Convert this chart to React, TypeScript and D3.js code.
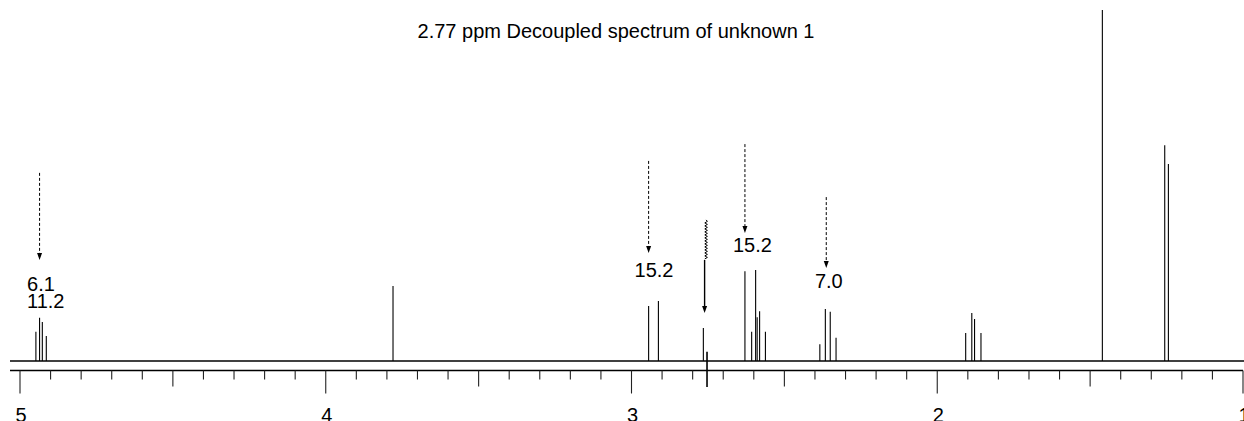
import React from "react";
import * as d3 from "d3";

// ---- data ----
const peakPpm = [
  4.948, 4.936, 4.927, 4.914,
  3.78,
  2.944, 2.912,
  2.765,
  2.629, 2.607, 2.594, 2.589, 2.581, 2.562,
  2.384, 2.366, 2.35, 2.331,
  1.907, 1.887, 1.878, 1.857,
  1.46,
  1.256, 1.244,
];
const peakIntensity = [
  8.3, 12.3, 11.1, 7.1,
  21.4,
  15.7, 17.1,
  9.4,
  25.6, 8.3, 25.9, 12.5, 14.2, 8.3,
  4.8, 14.8, 14.0, 6.6,
  8.0, 13.7, 12.0, 8.0,
  100,
  61.5, 56.1,
];

// irradiation (decoupling) position
const decouplePpm = 2.753;
const decoupleTop = 2.6;

// dashed arrows with coupling-constant labels
const arrowPpm = [4.936, 2.944, 2.629, 2.363];
const arrowTop = [53.6, 57.0, 61.8, 46.7];
const arrowTip = [28.8, 30.8, 36.5, 26.5];
const arrowLabels = [["6.1", "11.2"], ["15.2"], ["15.2"], ["7.0"]];
const labelPpm = [4.977, 2.99, 2.668, 2.4];
const labelBase = [19.9, 24.0, 31.1, 20.8];

// wavy arrow (decoupler)
const wavyPpm = 2.756;
const wavyTop = 40.2;
const wavyEnd = 28.8;
const wavyTip = 13.7;

const tickLabels = ["5", "4", "3", "2", "1"];
const tickValues = [5, 4, 3, 2, 1];

const title = "2.77 ppm Decoupled spectrum of unknown 1";

const W = 1244;
const H = 421;

export default function App() {
  const x = d3.scaleLinear().domain([5, 1]).range([20, 1243]);
  const y = d3.scaleLinear().domain([0, 100]).range([361, 10]);
  const axisY = 370.5;
  const font = "'Liberation Sans', Arial, Helvetica, sans-serif";

  const minorTicks = d3.range(0, 41).map((i) => 5 - i * 0.1);

  const arrowHead = (px: number, tipY: number) =>
    `M${px - 2.5},${tipY - 7} L${px + 2.5},${tipY - 7} L${px},${tipY} Z`;

  // wavy path
  const wx = x(wavyPpm);
  const wy0 = y(wavyTop);
  const wy1 = y(wavyEnd);
  let wavy = `M${wx},${wy0}`;
  let k = 0;
  for (let yy = wy0 + 1.5; yy <= wy1; yy += 1.5) {
    wavy += ` L${wx + (k % 2 === 0 ? 1.3 : -1.3)},${yy}`;
    k++;
  }
  const solidX = wx - 1.5;

  return (
    <svg
      width={W}
      height={H}
      style={{ position: "absolute", left: 0, top: 0, background: "#fff" }}
    >
      <text
        x={616}
        y={38}
        fontFamily={font}
        fontSize={20}
        textAnchor="middle"
        fill="#000"
      >
        {title}
      </text>

      {/* baseline */}
      <line x1={10} x2={W} y1={y(0)} y2={y(0)} stroke="#000" strokeWidth={1.5} />
      {/* axis line */}
      <line x1={10} x2={1243} y1={axisY} y2={axisY} stroke="#000" strokeWidth={1.5} />

      {/* ticks */}
      {minorTicks.map((t, i) => {
        const len = i % 10 === 0 ? 23 : i % 5 === 0 ? 16 : 9;
        return (
          <line
            key={"t" + i}
            x1={x(t)}
            x2={x(t)}
            y1={axisY}
            y2={axisY + len}
            stroke="#222"
            strokeWidth={1.1}
          />
        );
      })}
      {tickValues.map((t, i) => (
        <text
          key={"tl" + i}
          x={x(t) + 1}
          y={422}
          fontFamily={font}
          fontSize={20}
          textAnchor="middle"
          fill="#000"
        >
          {tickLabels[i]}
        </text>
      ))}

      {/* peaks */}
      {peakPpm.map((p, i) => (
        <line
          key={"p" + i}
          x1={x(p)}
          x2={x(p)}
          y1={y(0)}
          y2={y(peakIntensity[i])}
          stroke="#000"
          strokeWidth={1.1}
        />
      ))}

      {/* decoupling marker */}
      <line
        x1={x(decouplePpm)}
        x2={x(decouplePpm)}
        y1={y(decoupleTop)}
        y2={axisY + 16.5}
        stroke="#000"
        strokeWidth={1.6}
      />

      {/* dashed arrows */}
      {arrowPpm.map((p, i) => (
        <g key={"a" + i}>
          <line
            x1={x(p)}
            x2={x(p)}
            y1={y(arrowTop[i])}
            y2={y(arrowTip[i]) - 6}
            stroke="#000"
            strokeWidth={1}
            strokeDasharray="3,2"
          />
          <path d={arrowHead(x(p), y(arrowTip[i]))} fill="#000" />
          {arrowLabels[i].map((lab, j) => (
            <text
              key={j}
              x={x(labelPpm[i])}
              y={y(labelBase[i]) + j * 17}
              fontFamily={font}
              fontSize={20}
              textAnchor="start"
              fill="#000"
            >
              {lab}
            </text>
          ))}
        </g>
      ))}

      {/* wavy arrow */}
      <path d={wavy} fill="none" stroke="#000" strokeWidth={1} />
      <line
        x1={solidX}
        x2={solidX}
        y1={wy1}
        y2={y(wavyTip) - 6}
        stroke="#000"
        strokeWidth={1.4}
      />
      <path d={arrowHead(solidX, y(wavyTip))} fill="#000" />
    </svg>
  );
}
